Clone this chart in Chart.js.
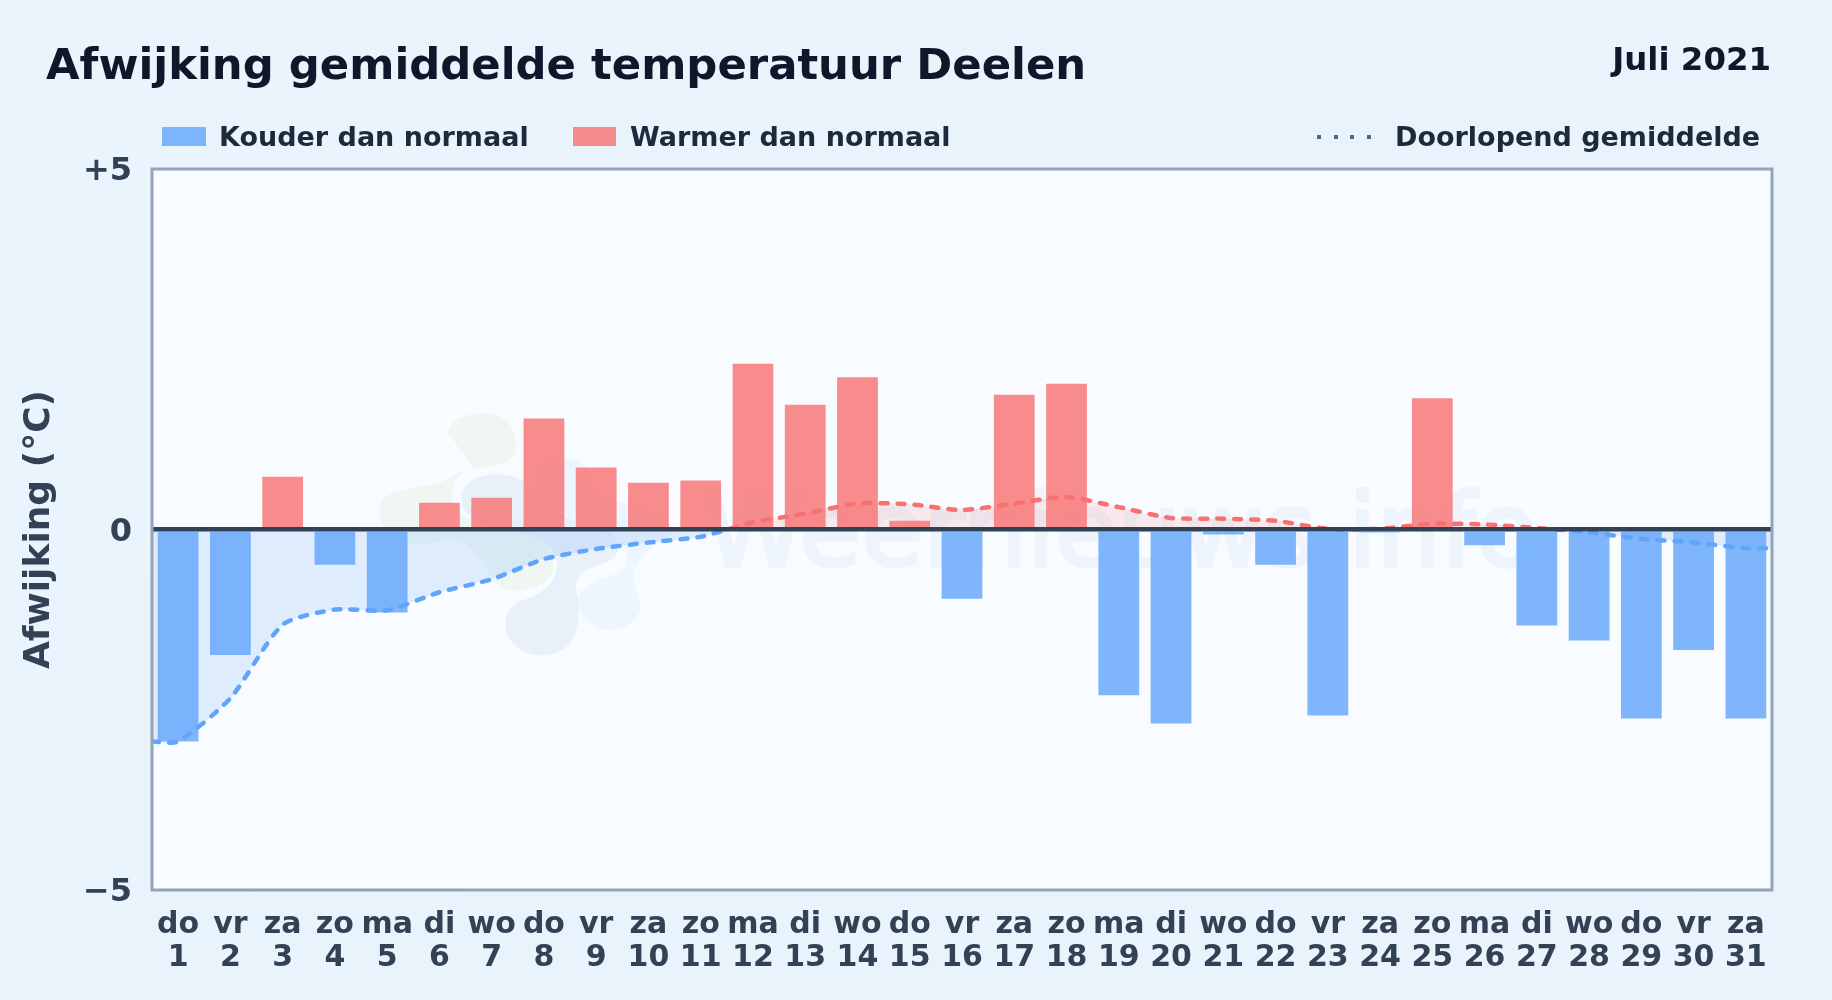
<!DOCTYPE html>
<html lang="nl">
<head>
<meta charset="UTF-8">
<title>Afwijking gemiddelde temperatuur Deelen</title>
<script src="https://cdn.jsdelivr.net/npm/chart.js@4/dist/chart.umd.js"></script>
<style>
  html, body { margin: 0; padding: 0; }
  body {
    width: 1832px; height: 1000px; position: relative; overflow: hidden;
    background: linear-gradient(135deg, #e9f4fd, #e8f3fc 50%, #ebf3fb);
    font-family: "DejaVu Sans", sans-serif; font-weight: bold;
  }
  canvas { position: absolute; left: 0; top: 0; }
  .txt { position: absolute; white-space: nowrap; line-height: 1; }
  #title { left: 46px; top: 43px; font-size: 43.35px; color: #0f172a; }
  #period { right: 61px; top: 43px; font-size: 32.4px; color: #0f172a; }
  .leg { top: 123px; font-size: 27px; color: #1e293b; }
  .swatch { position: absolute; top: 127px; height: 19px; }
  #dots { position: absolute; left: 1317px; top: 135px; width: 56px; height: 4px;
    background: repeating-linear-gradient(90deg, #56667c 0 4px, transparent 4px 16.6px); }
</style>
</head>
<body>
<canvas id="chart" width="1832" height="1000"></canvas>
<div class="txt" id="title">Afwijking gemiddelde temperatuur Deelen</div>
<div class="txt" id="period">Juli 2021</div>
<div class="swatch" style="left:162px;width:44px;background:rgba(96,165,250,.8)"></div>
<div class="txt leg" style="left:219px">Kouder dan normaal</div>
<div class="swatch" style="left:573px;width:43px;background:rgba(248,113,113,.8)"></div>
<div class="txt leg" style="left:630px">Warmer dan normaal</div>
<div id="dots"></div>
<div class="txt leg" style="left:1395px">Doorlopend gemiddelde</div>

<script>
const weekdays = ["do","vr","za","zo","ma","di","wo","do","vr","za","zo","ma","di","wo","do","vr","za","zo","ma","di","wo","do","vr","za","zo","ma","di","wo","do","vr","za"];
const days = ["1","2","3","4","5","6","7","8","9","10","11","12","13","14","15","16","17","18","19","20","21","22","23","24","25","26","27","28","29","30","31"];
const deviations = [-2.94,-1.74,0.73,-0.49,-1.15,0.37,0.44,1.54,0.86,0.65,0.68,2.30,1.73,2.11,0.12,-0.96,1.87,2.02,-2.30,-2.69,-0.07,-0.49,-2.58,-0.04,1.82,-0.22,-1.33,-1.54,-2.62,-1.67,-2.62];
const runningMean = [-2.94,-2.34,-1.32,-1.11,-1.12,-0.87,-0.69,-0.41,-0.27,-0.18,-0.10,0.10,0.22,0.36,0.35,0.27,0.36,0.45,0.31,0.16,0.15,0.12,0.01,0.01,0.08,0.07,0.02,-0.04,-0.13,-0.18,-0.26];
const yTicks = { "5": "+5", "0": "0", "-5": "\u22125" };

const blue = "#60a5fa", red = "#f87171";
const fontFamily = '"DejaVu Sans", sans-serif';

// the running mean line runs on to both edges of the plot
const linePoints = [
  { x: 0.5, y: runningMean[0] },
  ...runningMean.map((y, i) => ({ x: i + 1, y })),
  { x: 31.5, y: runningMean[runningMean.length - 1] }
];

// line colour flips at the zero line
function lineColor(ctx) {
  const chart = ctx.chart;
  if (!chart.chartArea) return blue;
  const { top, bottom } = chart.chartArea;
  const stop = (chart.scales.y.getPixelForValue(0) - top) / (bottom - top);
  const g = chart.ctx.createLinearGradient(0, top, 0, bottom);
  g.addColorStop(0, red);
  g.addColorStop(stop, red);
  g.addColorStop(stop, blue);
  g.addColorStop(1, blue);
  return g;
}

const plotBackground = {
  id: "plotBackground",
  beforeDraw(chart) {
    const { ctx, chartArea: a } = chart;
    ctx.save();
    ctx.fillStyle = "#f8fbff";
    ctx.fillRect(a.left, a.top, a.width, a.height);
    // watermark logo
    ctx.translate(360, 390);
    ctx.scale(1 / 3, 1 / 3);
    ctx.fillStyle = "rgba(190,225,150,.12)";
    ctx.fill(new Path2D("M265,130 C265,90 320,70 370,70 C430,70 470,110 470,170 C470,215 410,230 340,235 C290,240 270,270 235,280 C180,290 100,300 70,325 C50,350 55,390 75,420 C100,470 190,470 250,450 C300,440 350,470 380,540 C400,590 440,610 490,600 C550,590 585,560 580,520 C575,470 540,435 480,430 C420,420 300,400 275,330 C270,280 300,240 340,235 Z"));
    ctx.fillStyle = "rgba(100,150,205,.1)";
    ctx.fill(new Path2D("M305,310 C315,265 380,245 440,255 C500,265 520,300 560,350 C600,385 690,395 740,420 C790,450 790,500 730,520 C670,535 640,560 650,610 C660,660 660,720 630,760 C590,810 490,810 450,750 C420,700 440,650 490,630 C560,610 600,560 590,510 C570,440 500,430 420,420 C350,405 295,370 305,310 Z"));
    ctx.fillStyle = "rgba(96,180,250,.07)";
    ctx.fill(new Path2D("M530,230 C560,195 640,195 680,230 C700,260 690,300 720,325 C770,335 830,340 880,370 C930,390 950,420 930,440 C880,470 840,490 820,550 C815,590 845,620 840,660 C825,715 740,740 690,700 C665,680 650,650 655,620 C665,580 730,570 780,545 C810,525 810,480 770,445 C700,400 600,380 560,340 C530,300 515,260 530,230 Z"));
    ctx.restore();
    ctx.save();
    ctx.font = "101px " + fontFamily;
    ctx.fillStyle = "#edf4fc";
    ctx.strokeStyle = "#edf4fc";
    ctx.lineWidth = 3.5;
    ctx.textBaseline = "alphabetic";
    ctx.fillText("Weernieuws.info", 705, 566);
    ctx.strokeText("Weernieuws.info", 705, 566);
    ctx.restore();
  }
};

const plotBorder = {
  id: "plotBorder",
  afterDraw(chart) {
    const { ctx, chartArea: a } = chart;
    ctx.save();
    ctx.strokeStyle = "#94a3b8";
    ctx.lineWidth = 3;
    ctx.strokeRect(a.left, a.top, a.width, a.height);
    ctx.restore();
  }
};

new Chart("chart", {
  type: "bar",
  data: {
    labels: weekdays.map((d, i) => [d, days[i]]),
    datasets: [
      {
        type: "line",
        data: linePoints,
        xAxisID: "x2",
        order: 0,
        borderColor: lineColor,
        borderWidth: 4.5,
        borderDash: [7, 10],
        borderCapStyle: "round",
        tension: 0.22,
        pointRadius: 0,
        fill: { target: { value: 0 }, above: "rgba(248,113,113,.13)", below: "rgba(96,165,250,.17)" }
      },
      {
        data: deviations,
        order: 1,
        grouped: false,
        backgroundColor: ctx => ctx.raw < 0 ? "rgba(96,165,250,.8)" : "rgba(248,113,113,.8)",
        barPercentage: 0.78,
        categoryPercentage: 1
      }
    ]
  },
  options: {
    responsive: false,
    animation: false,
    layout: { padding: { top: 169, right: 60, left: 0, bottom: 0 } },
    plugins: {
      legend: { display: false },
      tooltip: { enabled: false },
      filler: { drawTime: "beforeDatasetsDraw" }
    },
    scales: {
      x: {
        grid: { display: false },
        border: { display: false },
        ticks: {
          autoSkip: false, maxRotation: 0, padding: 10, color: "#334155",
          font: { family: fontFamily, weight: "bold", size: 30, lineHeight: 1.12 }
        },
        afterFit: s => { s.height = 110; }
      },
      x2: { type: "linear", min: 0.5, max: 31.5, display: false, offset: false },
      y: {
        min: -5, max: 5,
        afterBuildTicks: s => { s.ticks = [-5, 0, 5].map(value => ({ value })); },
        grid: {
          z: 1, drawTicks: false,
          color: c => c.tick.value === 0 ? "#334155" : "transparent",
          lineWidth: c => c.tick.value === 0 ? 4.5 : 0
        },
        border: { display: false },
        ticks: {
          padding: 20, color: "#334155", labelOffset: 3,
          font: { family: fontFamily, weight: "bold", size: 32 },
          callback: v => yTicks[v]
        },
        title: {
          display: true, text: "Afwijking (\u00b0C)", color: "#334155",
          font: { family: fontFamily, weight: "bold", size: 36 },
          padding: { top: 18, bottom: 0 }
        },
        afterFit: s => { s.width = 152; }
      }
    }
  },
  plugins: [plotBackground, plotBorder]
});
</script>
</body>
</html>
